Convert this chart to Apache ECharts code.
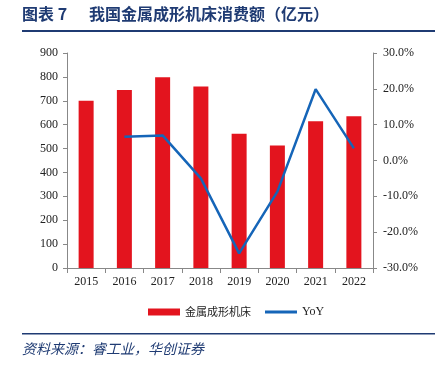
<!DOCTYPE html>
<html><head><meta charset="utf-8">
<script src="https://cdn.jsdelivr.net/npm/echarts@6/dist/echarts.min.js"></script>
<style>html,body{margin:0;padding:0;background:#fff}#c{width:435px;height:366px}</style>
</head><body><div id="c"></div>
<script>
const categories = ['2015','2016','2017','2018','2019','2020','2021','2022'];
const consumption = [700, 745, 798, 760, 562, 513, 614, 635];
const yoy = [null, 6.6, 7.0, -5.0, -25.9, -8.7, 19.9, 3.4];
const leftTicks = [0, 100, 200, 300, 400, 500, 600, 700, 800, 900];
const rightTicks = [-30, -20, -10, 0, 10, 20, 30];

const chart = echarts.init(document.getElementById('c'), null, {renderer:'canvas'});
const serif = '"Liberation Serif","Times New Roman",serif';
const cjk = '"Noto Sans CJK SC",sans-serif';
chart.setOption({
  animation:false,
  backgroundColor:'#fff',
  grid:{left:67,right:62,top:53,bottom:98},
  graphic:[
    {type:'text',left:22,top:6,style:{text:'图表 7',font:'bold 16px '+cjk,fill:'#1F3B73'}},
    {type:'text',left:89,top:6,style:{text:'我国金属成形机床消费额（亿元）',font:'bold 16px '+cjk,fill:'#1F3B73'}},
    {type:'rect',shape:{x:22,y:30,width:413,height:2},style:{fill:'#1F3B73'}},
    {type:'rect',shape:{x:22,y:333,width:413,height:1.5},style:{fill:'#1F3B73'}},
    {type:'text',left:22,top:342,style:{text:'资料来源：睿工业，华创证券',font:'italic 14px '+cjk,fill:'#1F3B73'}}
  ],
  legend:{
    left:143,top:301,itemGap:14,itemWidth:32,itemHeight:7,
    textStyle:{fontFamily:serif,fontSize:12,color:'#222'},
    data:[{name:'金属成形机床',icon:'rect',textStyle:{fontFamily:cjk,fontSize:11}},{name:'YoY',icon:'path://M0,0L32,0L32,3L0,3Z'}]
  },
  xAxis:{
    type:'category',data:categories,
    axisLine:{lineStyle:{color:'#888'}},
    axisTick:{show:true,alignWithLabel:false,length:5,lineStyle:{color:'#888'}},
    axisLabel:{fontFamily:serif,fontSize:12,color:'#222',margin:8}
  },
  yAxis:[
    {type:'value',min:0,max:900,interval:100,
     axisLine:{show:true,lineStyle:{color:'#888'}},
     axisTick:{show:true,inside:false,length:4,lineStyle:{color:'#888'}},
     splitLine:{show:false},
     axisLabel:{fontFamily:serif,fontSize:12,color:'#222',margin:9}},
    {type:'value',min:-30,max:30,interval:10,
     axisLine:{show:true,lineStyle:{color:'#888'}},
     axisTick:{show:true,length:4,lineStyle:{color:'#888'}},
     splitLine:{show:false},
     axisLabel:{fontFamily:serif,fontSize:12,color:'#222',margin:10,formatter:v=>v.toFixed(1)+'%'}}
  ],
  series:[
    {name:'金属成形机床',type:'bar',data:consumption,barWidth:15,itemStyle:{color:'#E3141E'}},
    {name:'YoY',type:'line',yAxisIndex:1,data:yoy,symbol:'none',lineStyle:{color:'#1565B8',width:2.5},itemStyle:{color:'#1565B8'}}
  ]
});
</script></body></html>
